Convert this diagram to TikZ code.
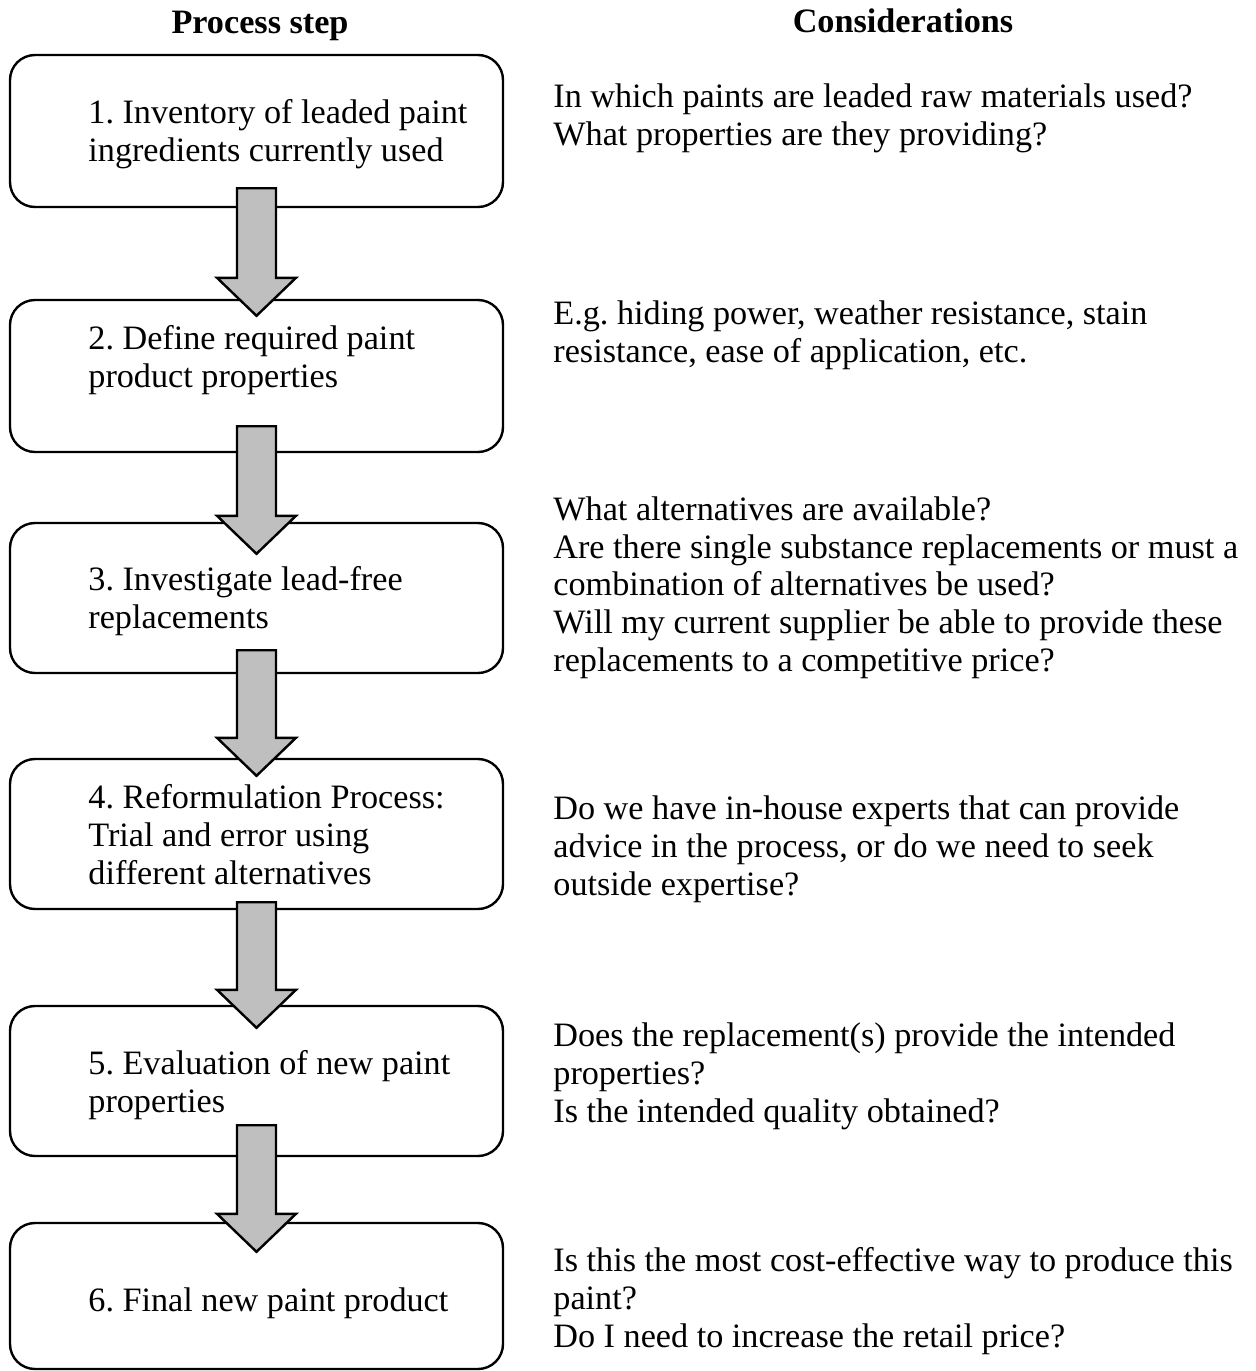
\documentclass[tikz,border=0pt]{standalone}
\usepackage{fontspec}
\setmainfont{Liberation Serif}
\usetikzlibrary{calc,positioning}

\tikzset{
  stepbox/.style={draw,line width=1.2pt,rounded corners=12.5pt,minimum width=246.5pt,inner sep=0pt},
  body/.style={anchor=base west,align=left,inner sep=0pt,font=\fontsize{17.1}{18.8}\selectfont},
  head/.style={anchor=base,inner sep=0pt,font=\fontsize{17.1}{18.8}\selectfont\bfseries},
  flowarrow/.style={draw,line width=1.2pt,fill=black!25,line join=miter}
}
\frenchspacing

\begin{document}
\begin{tikzpicture}[x=0.5pt,y=-0.5pt]
    \useasboundingbox (0,0) rectangle (1255,1371);

    \node[head] (stephead) at (260,33) {Process step};
    \node[head] (conshead) at (903,32) {Considerations};

    \node[stepbox,minimum height=76pt] (step1) at (256.5,131) {};
    \node[stepbox,minimum height=76pt] (step2) at (256.5,376) {};
    \node[stepbox,minimum height=75pt] (step3) at (256.5,598) {};
    \node[stepbox,minimum height=75pt] (step4) at (256.5,834) {};
    \node[stepbox,minimum height=75pt] (step5) at (256.5,1081) {};
    \node[stepbox,minimum height=73pt] (step6) at (256.5,1296) {};

    % block arrows between the steps
    \foreach \from/\to/\up/\down in {step1/step2/20/17,step2/step3/27/32,step3/step4/24/18,step4/step5/8/23,step5/step6/32/30}
    \draw[flowarrow] ($(\from.south)+(-19.5,-\up)$) -- ($(\to.north)+(-19.5,{\down-38})$) -- ++(-20,0)
        -- ($(\to.north)+(0,\down)$) -- ($(\to.north)+(39.5,{\down-38})$) -- ++(-20,0)
        -- ($(\from.south)+(19.5,-\up)$) -- cycle;

    % step texts (base = last line)
    \node[body] (steptext1) at (88,161) {1. Inventory of leaded paint\\ingredients currently used};
    \node[body] (steptext2) at (88,387) {2. Define required paint\\product properties};
    \node[body] (steptext3) at (88,628) {3. Investigate lead-free\\replacements};
    \node[body] (steptext4) at (88,884) {4. Reformulation Process:\\Trial and error using\\different alternatives};
    \node[body] (steptext5) at (88,1112) {5. Evaluation of new paint\\properties};
    \node[body] (steptext6) at (88,1311) {6. Final new paint product};

    % considerations
    \node[body] (cons1) at (553,145) {In which paints are leaded raw materials used?\\What properties are they providing?};
    \node[body] (cons2) at (553,362) {E.g. hiding power, weather resistance, stain\\resistance, ease of application, etc.};
    \node[body] (cons3) at (553,671) {What alternatives are available?\\Are there single substance replacements or must a\\combination of alternatives be used?\\Will my current supplier be able to provide these\\replacements to a competitive price?};
    \node[body] (cons4) at (553,895) {Do we have in-house experts that can provide\\advice in the process, or do we need to seek\\outside expertise?};
    \node[body] (cons5) at (553,1122) {Does the replacement(s) provide the intended\\properties?\\Is the intended quality obtained?};
    \node[body] (cons6) at (553,1347) {Is this the most cost-effective way to produce this\\paint?\\Do I need to increase the retail price?};

\end{tikzpicture}
\end{document}
